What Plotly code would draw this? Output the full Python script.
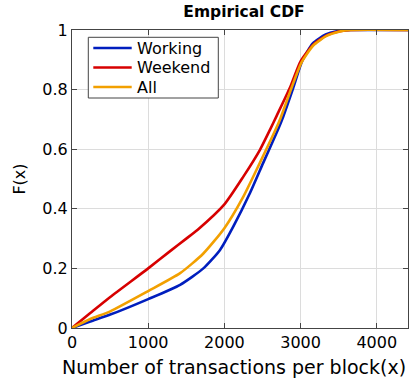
import plotly.graph_objects as go

# Empirical CDF of transactions per block
working_x = [0, 240, 502, 1000, 1419, 1724, 1943, 2118, 2336, 2511, 2707, 2773, 2904, 3020, 3160, 3330, 3500, 3650, 4410]
working_f = [0, 0.022, 0.045, 0.097, 0.145, 0.20, 0.262, 0.341, 0.453, 0.555, 0.668, 0.71, 0.806, 0.895, 0.955, 0.985, 0.997, 1.0, 1.0]

weekend_x = [0, 240, 502, 1000, 1288, 1500, 1650, 2000, 2249, 2467, 2598, 2686, 2860, 3000, 3166, 3341, 3515, 3660, 4410]
weekend_f = [0, 0.05, 0.104, 0.2, 0.258, 0.30, 0.33, 0.415, 0.508, 0.598, 0.665, 0.712, 0.806, 0.895, 0.951, 0.982, 0.996, 1.0, 1.0]

all_x = [0, 240, 502, 1000, 1419, 1724, 2000, 2249, 2467, 2680, 2738, 2882, 3010, 3166, 3341, 3515, 3660, 4410]
all_f = [0, 0.030, 0.056, 0.124, 0.184, 0.25, 0.335, 0.441, 0.555, 0.67, 0.705, 0.806, 0.89, 0.948, 0.98, 0.995, 1.0, 1.0]

series_names = ["Working", "Weekend", "All"]
series_colors = ["rgb(0,30,190)", "rgb(215,0,0)", "rgb(242,160,0)"]

x_ticks = [0, 1000, 2000, 3000, 4000]
y_ticks = [0, 0.2, 0.4, 0.6, 0.8, 1]
y_labels = ["0", "0.2", "0.4", "0.6", "0.8", "1"]

font = "DejaVu Sans, sans-serif"
W, H = 420, 381
ML, MR, MT, MB = 72, 12, 30, 53
PW, PH = W - ML - MR, H - MT - MB


def px_x(px):
    # pixel column -> paper fraction of the plot area
    return (px - ML) / PW


def px_y(py):
    # pixel row -> paper fraction of the plot area
    return (H - MB - py) / PH


fig = go.Figure()
for name, xs, fs, color in zip(series_names, [working_x, weekend_x, all_x],
                               [working_f, weekend_f, all_f], series_colors):
    fig.add_trace(go.Scatter(
        x=xs, y=fs, name=name, mode="lines", showlegend=False,
        line=dict(color=color, width=2.6, shape="spline", smoothing=0.6),
    ))

axis_common = dict(
    showline=True, linecolor="#444", linewidth=1, mirror="ticks",
    ticks="inside", ticklen=5, tickcolor="#444",
    showgrid=True, gridcolor="#dcdcdc", gridwidth=1,
    zeroline=False, tickfont=dict(size=16, color="black", family=font),
)

# boxed legend in the upper-left corner of the axes
shapes = [dict(type="rect", xref="paper", yref="paper",
               x0=px_x(88.3), x1=px_x(218.3), y0=px_y(98), y1=px_y(37.3),
               line=dict(color="#444", width=1), fillcolor="white", layer="above")]
annotations = []
for i, (name, color) in enumerate(zip(series_names, series_colors)):
    row = 48 + i * 19.5
    shapes.append(dict(type="line", xref="paper", yref="paper",
                       x0=px_x(93.3), x1=px_x(131.7), y0=px_y(row), y1=px_y(row),
                       line=dict(color=color, width=2.6), layer="above"))
    annotations.append(dict(text=name, xref="paper", yref="paper",
                            x=px_x(135), y=px_y(row), xanchor="left", yanchor="middle",
                            showarrow=False, font=dict(size=16, color="black", family=font)))

# x-axis title
annotations.append(dict(text="Number of transactions per block(x)", xref="paper", yref="paper",
                        x=px_x(234), y=px_y(367), xanchor="center", yanchor="middle",
                        showarrow=False, font=dict(size=19, color="black", family=font)))

fig.update_layout(
    width=W, height=H,
    margin=dict(l=ML, r=MR, t=MT, b=MB),
    paper_bgcolor="white", plot_bgcolor="white",
    font=dict(family=font, color="black"),
    title=dict(text="<b>Empirical CDF</b>", x=0.581, xanchor="center", y=0.9685,
               yanchor="middle", font=dict(size=15.5, color="black", family=font)),
    xaxis=dict(range=[0, 4410], tickvals=x_ticks, **axis_common),
    yaxis=dict(range=[0, 1], tickvals=y_ticks, ticktext=y_labels, **axis_common,
               title=dict(text="F(x)", standoff=12,
                          font=dict(size=16, color="black", family=font))),
    shapes=shapes,
    annotations=annotations,
    showlegend=False,
)

fig.write_html("out.html")
